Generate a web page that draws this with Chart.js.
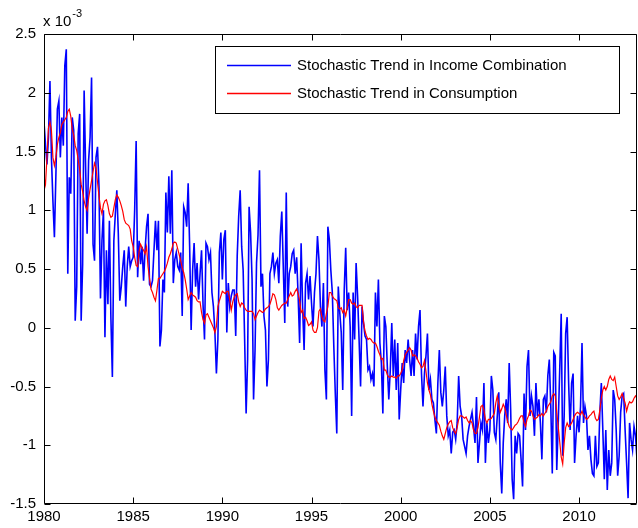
<!DOCTYPE html>
<html><head><meta charset="utf-8">
<script src="https://cdn.jsdelivr.net/npm/chart.js@4/dist/chart.umd.min.js"></script>
<style>html,body{margin:0;padding:0;background:#fff;overflow:hidden}canvas{display:block}</style>
</head><body>
<canvas id="c" width="638" height="528"></canvas>
<script>
// ---- data (values in units of 10^-3), monthly from Jan 1980 ----
const START_YEAR = 1980;
const X_MIN = 1980;
const X_MAX = 2013.25;
const xTickYears = [1980, 1985, 1990, 1995, 2000, 2005, 2010];
const yTickValues = [-1.5, -1, -0.5, 0, 0.5, 1, 1.5, 2, 2.5];
const scaleExponent = '-3';
const seriesNames = ['Stochastic Trend in Income Combination', 'Stochastic Trend in Consumption'];
const seriesColors = ['#0000ff', '#ff0000'];

const incomeCombination = [
 1.75, 1.56, 1.39, 1.62, 2.10, 1.45, 1.08, 0.77, 1.30, 1.86,
 1.93, 1.45, 1.79, 1.55, 2.23, 2.37, 0.46, 1.28, 1.14, 1.79,
 1.68, 0.06, 0.35, 1.65, 1.82, 0.06, 0.54, 2.02, 1.37, 0.80,
 1.42, 1.62, 2.13, 0.71, 0.57, 1.45, 1.54, 1.20, 0.25, 0.74,
 1.00, -0.08, 0.66, 0.20, 0.91, 0.09, -0.42, 0.74, 0.97, 1.17,
 0.80, 0.23, 0.35, 0.52, 0.66, 0.18, 0.52, 0.69, 0.52, 0.57,
 0.60, 1.00, 1.59, 0.43, 0.74, 0.54, 0.69, 0.40, 0.66, 0.86,
 0.97, 0.37, 0.35, 0.40, 0.66, 0.91, 0.66, 0.91, -0.16, -0.02,
 0.41, 0.30, 1.15, 0.81, 1.29, 0.80, 1.34, 0.38, 0.58, 0.64,
 0.52, 0.49, 0.64, 0.10, 1.03, 0.98, 0.86, 1.23, 0.69, -0.02,
 0.49, 0.72, 0.35, 0.55, 0.24, 0.46, 0.66, 0.20, -0.10, 0.72,
 0.69, 0.58, 0.64, 0.30, 0.18, -0.04, -0.39, -0.10, 0.64, 0.81,
 0.41, 0.75, 0.83, -0.04, 0.38, 0.18, 0.27, 0.32, 0.32, -0.07,
 0.61, 0.95, 1.17, 0.69, 0.49, -0.10, -0.73, -0.27, 1.03, 0.81,
 0.41, -0.61, -0.19, 0.55, 0.79, 1.34, 0.35, 0.46, 0.10, -0.02,
 -0.50, -0.27, 0.46, 0.52, 0.64, 0.46, 0.55, 0.58, 0.38, 0.78,
 0.99, 0.52, 0.04, 1.15, 0.18, 0.46, 0.52, 0.63, 0.66, 0.46,
 0.60, 0.27, -0.13, 0.72, 0.18, -0.19, 0.38, 0.46, 0.24, 0.44,
 0.21, 0.01, 0.30, 0.46, 0.78, 0.58, 0.18, 0.01, 0.38, -0.36,
 -0.61, 0.86, 0.75, 0.49, 0.30, -0.16, -0.56, -0.90, 0.35, 0.13,
 -0.04, -0.53, 0.32, 0.68, 0.15, 0.30, 0.01, -0.75, 0.30, -0.10,
 0.55, 0.27, -0.10, -0.50, 0.18, 0.04, -0.07, -0.10, -0.36, -0.33,
 -0.44, -0.39, -0.50, 0.30, 0.01, 0.41, -0.13, -0.30, -0.73, 0.10,
 0.01, -0.33, -0.61, -0.36, 0.04, -0.41, -0.10, -0.53, -0.13, -0.78,
 -0.53, -0.30, -0.47, -0.19, -0.30, -0.10, -0.27, -0.41, -0.19, -0.41,
 -0.05, -0.27, 0.01, 0.15, -0.39, -0.67, -0.39, -0.24, -0.05, -0.53,
 -0.44, -0.61, -0.64, -0.78, -0.90, -0.47, -0.19, -0.55, -0.67, -0.53,
 -0.33, -0.75, -0.92, -0.87, -1.07, -0.89, -0.87, -0.95, -0.81, -0.41,
 -0.67, -0.75, -0.95, -1.01, -1.07, -0.92, -0.84, -0.78, -0.72, -0.84,
 -0.98, -0.59, -1.15, -0.98, -0.81, -0.87, -0.47, -1.15, -0.81, -0.98,
 -0.87, -0.41, -0.53, -0.89, -0.95, -0.75, -0.55, -1.15, -1.41, -0.98,
 -0.75, -0.61, -0.81, -0.30, -0.70, -1.29, -1.46, -0.92, -1.07, -0.90,
 -0.92, -1.12, -1.35, -0.56, -0.87, -0.33, -0.19, -0.75, -0.58, -0.67,
 -0.92, -0.47, -0.75, -0.61, -0.81, -1.12, -0.61, -0.58, -0.72, -0.41,
 -0.27, -0.67, -1.24, -0.21, -0.24, -1.21, -0.81, -0.36, 0.12, -1.09,
 -0.75, -0.05, 0.09, -0.47, -0.87, -0.47, -0.39, -1.15, -0.92, -0.75,
 -0.89, -0.67, -0.13, -0.81, -0.67, -0.75, -1.04, -0.92, -1.12, -1.24,
 -1.26, -0.92, -1.18, -1.15, -0.72, -0.47, -0.87, -1.29, -0.87, -1.38,
 -1.04, -1.26, -1.15, -0.53, -0.61, -0.87, -1.26, -1.09, -0.72, -0.58,
 -0.56, -0.87, -1.15, -1.45, -0.81, -0.95, -1.04, -0.84, -0.92, -1.12
];

const consumption = [
 1.28, 1.22, 1.45, 1.70, 1.75, 1.68, 1.45, 1.38, 1.45, 1.56,
 1.62, 1.66, 1.73, 1.75, 1.77, 1.79, 1.84, 1.86, 1.80, 1.69,
 1.64, 1.55, 1.51, 1.43, 1.35, 1.22, 1.16, 1.08, 1.03, 1.00,
 1.10, 1.18, 1.25, 1.33, 1.40, 1.36, 1.24, 1.12, 1.02, 0.97,
 1.05, 1.08, 1.09, 1.04, 0.97, 0.94, 0.95, 1.02, 1.09, 1.13,
 1.11, 1.08, 1.04, 0.99, 0.92, 0.89, 0.88, 0.87, 0.84, 0.74,
 0.69, 0.60, 0.53, 0.52, 0.65, 0.71, 0.68, 0.66, 0.63, 0.69,
 0.52, 0.42, 0.33, 0.30, 0.26, 0.23, 0.32, 0.42, 0.42, 0.44,
 0.46, 0.48, 0.51, 0.55, 0.60, 0.63, 0.67, 0.72, 0.73, 0.72,
 0.67, 0.62, 0.57, 0.51, 0.47, 0.41, 0.33, 0.24, 0.27, 0.30,
 0.28, 0.27, 0.26, 0.23, 0.22, 0.22, 0.13, 0.07, 0.04, 0.11,
 0.12, 0.09, 0.06, 0.03, 0.00, -0.04, 0.01, 0.18, 0.23, 0.27,
 0.31, 0.30, 0.29, 0.31, 0.31, 0.24, 0.15, 0.22, 0.26, 0.28,
 0.29, 0.22, 0.18, 0.21, 0.20, 0.17, 0.15, 0.14, 0.14, 0.14,
 0.14, 0.12, 0.07, 0.10, 0.13, 0.15, 0.14, 0.13, 0.14, 0.16,
 0.17, 0.18, 0.20, 0.24, 0.29, 0.28, 0.24, 0.17, 0.15, 0.17,
 0.19, 0.20, 0.21, 0.21, 0.24, 0.27, 0.30, 0.27, 0.28, 0.31,
 0.33, 0.29, 0.23, 0.13, 0.15, 0.08, 0.09, 0.06, 0.02, 0.03,
 0.05, -0.02, -0.04, -0.04, 0.00, 0.14, 0.16, 0.09, 0.06, 0.05,
 0.12, 0.18, 0.30, 0.30, 0.27, 0.25, 0.24, 0.23, 0.17, 0.16,
 0.17, 0.13, 0.15, 0.10, 0.17, 0.24, 0.24, 0.21, 0.20, 0.21,
 0.18, 0.17, 0.19, 0.19, 0.19, 0.05, -0.03, -0.07, -0.10, -0.09,
 -0.10, -0.12, -0.13, -0.13, -0.16, -0.20, -0.23, -0.27, -0.26, -0.36,
 -0.36, -0.40, -0.42, -0.42, -0.41, -0.42, -0.42, -0.43, -0.41, -0.41,
 -0.39, -0.36, -0.28, -0.23, -0.21, -0.19, -0.17, -0.19, -0.24, -0.23,
 -0.24, -0.26, -0.29, -0.31, -0.34, -0.33, -0.28, -0.37, -0.47, -0.53,
 -0.57, -0.65, -0.71, -0.76, -0.79, -0.81, -0.83, -0.88, -0.92, -0.95,
 -0.90, -0.85, -0.82, -0.80, -0.79, -0.85, -0.88, -0.90, -0.85, -0.78,
 -0.75, -0.75, -0.76, -0.77, -0.76, -0.79, -0.81, -0.79, -0.81, -0.87,
 -0.90, -0.90, -0.85, -0.76, -0.67, -0.66, -0.70, -0.78, -0.81, -0.78,
 -0.78, -0.77, -0.75, -0.73, -0.64, -0.58, -0.65, -0.72, -0.69, -0.65,
 -0.68, -0.74, -0.80, -0.84, -0.86, -0.87, -0.85, -0.83, -0.82, -0.80,
 -0.77, -0.75, -0.75, -0.81, -0.84, -0.78, -0.75, -0.70, -0.71, -0.75,
 -0.78, -0.77, -0.76, -0.74, -0.75, -0.73, -0.75, -0.73, -0.71, -0.67,
 -0.65, -0.63, -0.58, -0.56, -0.58, -0.72, -0.84, -0.97, -1.10, -1.16,
 -0.98, -0.85, -0.81, -0.84, -0.83, -0.81, -0.78, -0.75, -0.73, -0.72,
 -0.73, -0.74, -0.71, -0.74, -0.76, -0.78, -0.77, -0.75, -0.74, -0.72,
 -0.71, -0.77, -0.79, -0.78, -0.70, -0.60, -0.53, -0.50, -0.53, -0.50,
 -0.44, -0.41, -0.44, -0.45, -0.42, -0.50, -0.58, -0.61, -0.59, -0.56,
 -0.60, -0.64, -0.71, -0.66, -0.63, -0.64, -0.63, -0.60, -0.58, -0.60
];

// ---- chart ----
const FONT = "'Liberation Sans', Arial, Helvetica, sans-serif";
const toPoints = arr => arr.map((v, i) => ({ x: START_YEAR + i / 12, y: v }));

const matlabFrame = {
  id: 'matlabFrame',
  afterDatasetsDraw(chart) {
    const ctx = chart.ctx, a = chart.chartArea;
    const xs = chart.scales.x, ys = chart.scales.y;
    const L = Math.round(a.left) + 0.5, R = Math.round(a.right) - 0.5;
    const T = Math.round(a.top) + 0.5, B = Math.round(a.bottom) - 0.5;
    const TL = 6;
    ctx.save();
    ctx.strokeStyle = '#000'; ctx.lineWidth = 1;
    ctx.beginPath();
    ctx.rect(L, T, R - L, B - T);
    xTickYears.forEach(v => {
      const px = Math.round(xs.getPixelForValue(v)) + 0.5;
      ctx.moveTo(px, B); ctx.lineTo(px, B - TL);
      ctx.moveTo(px, T); ctx.lineTo(px, T + TL);
    });
    yTickValues.forEach(v => {
      const py = Math.round(ys.getPixelForValue(v)) + 0.5;
      ctx.moveTo(L, py); ctx.lineTo(L + TL, py);
      ctx.moveTo(R, py); ctx.lineTo(R - TL, py);
    });
    ctx.stroke();

    // exponent label
    ctx.fillStyle = '#000';
    ctx.textBaseline = 'alphabetic'; ctx.textAlign = 'left';
    ctx.font = '15px ' + FONT;
    const base = 'x 10';
    ctx.fillText(base, 43, 26);
    const w = ctx.measureText(base).width;
    ctx.font = '11px ' + FONT;
    ctx.fillText(scaleExponent, 43 + w + 1, 17);

    // legend
    const lx = 215, ly = 46, lw = 404, lh = 67;
    ctx.fillStyle = '#fff';
    ctx.fillRect(lx, ly, lw, lh);
    ctx.strokeStyle = '#000'; ctx.lineWidth = 1;
    ctx.strokeRect(lx + 0.5, ly + 0.5, lw, lh);
    const rows = [ly + 19, ly + 47];
    seriesNames.forEach((name, i) => {
      ctx.beginPath();
      ctx.strokeStyle = seriesColors[i]; ctx.lineWidth = 1.3;
      ctx.moveTo(227, rows[i] + 0.5); ctx.lineTo(291, rows[i] + 0.5);
      ctx.stroke();
      ctx.fillStyle = '#000'; ctx.font = '15px ' + FONT;
      ctx.textBaseline = 'middle';
      ctx.fillText(name, 297, rows[i] + 1);
    });
    ctx.restore();
  }
};

new Chart(document.getElementById('c'), {
  type: 'line',
  data: {
    datasets: [
      { label: seriesNames[0], data: toPoints(incomeCombination), borderColor: seriesColors[0], borderWidth: 1.6, pointRadius: 0, tension: 0, order: 2 },
      { label: seriesNames[1], data: toPoints(consumption), borderColor: seriesColors[1], borderWidth: 1.2, pointRadius: 0, tension: 0, order: 1 }
    ]
  },
  options: {
    responsive: false,
    animation: false,
    devicePixelRatio: 1,
    layout: { padding: { top: 34, right: 1, left: 0, bottom: 0 } },
    plugins: { legend: { display: false }, tooltip: { enabled: false } },
    scales: {
      x: {
        type: 'linear', min: X_MIN, max: X_MAX,
        grid: { display: false, drawTicks: false },
        border: { display: false },
        afterBuildTicks: s => { s.ticks = xTickYears.map(v => ({ value: v })); },
        afterFit: s => { s.height = 24; },
        ticks: { color: '#000', font: { family: FONT, size: 15 }, padding: 4, maxRotation: 0, autoSkip: false, callback: v => String(v) }
      },
      y: {
        min: -1.5, max: 2.5,
        grid: { display: false, drawTicks: false },
        border: { display: false },
        afterBuildTicks: s => { s.ticks = yTickValues.map(v => ({ value: v })); },
        afterFit: s => { s.width = 44; },
        ticks: { color: '#000', font: { family: FONT, size: 15 }, padding: 8, autoSkip: false, callback: v => String(v) }
      }
    }
  },
  plugins: [matlabFrame]
});
</script>
</body></html>
